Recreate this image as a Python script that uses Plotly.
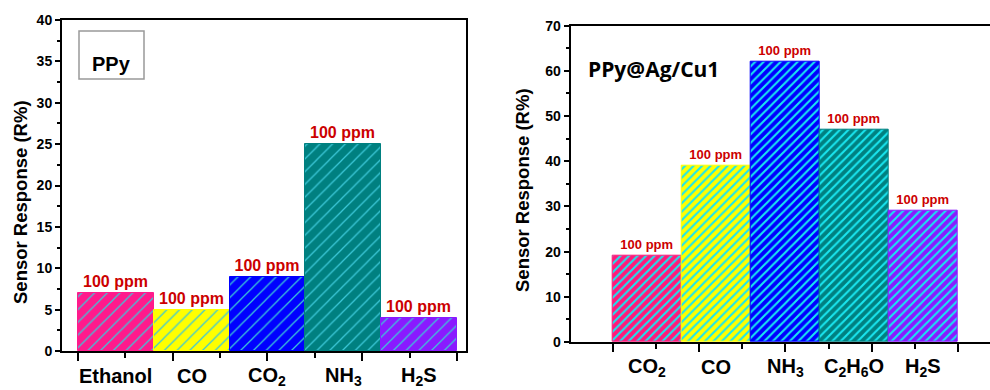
import plotly.graph_objects as go

# ---------------- data ----------------
ppy_gases = ["Ethanol", "CO", "CO<sub>2</sub>", "NH<sub>3</sub>", "H<sub>2</sub>S"]
ppy_values = [7, 5, 9, 25, 4]
ppy_colors = ["#ff1a8c", "#ffff00", "#0000ff", "#008080", "#8a1aff"]

agcu_gases = ["CO<sub>2</sub>", "CO", "NH<sub>3</sub>", "C<sub>2</sub>H<sub>6</sub>O", "H<sub>2</sub>S"]
agcu_values = [19, 39, 62, 47, 29]
agcu_colors = ["#ff1a7a", "#ffff00", "#0000ff", "#008080", "#8a1aff"]

conc_labels = ["100 ppm", "100 ppm", "100 ppm", "100 ppm", "100 ppm"]

ppy_yticks = [0, 5, 10, 15, 20, 25, 30, 35, 40]
agcu_yticks = [0, 10, 20, 30, 40, 50, 60, 70]

y_title = "Sensor Response (R%)"
FONT = "Liberation Sans, Arial, sans-serif"

W, H = 990, 390

# x tick marks: bar span divided into 8 intervals (major / minor alternate)
span = [-0.5 + k * 5 / 8 for k in range(9)]
major = span[0::2]
minor = span[1::2]

fig = go.Figure()

# one trace per bar so that each hatch keeps its own colours
for i, (v, c, t) in enumerate(zip(ppy_values, ppy_colors, conc_labels)):
    fig.add_trace(go.Bar(
        x=[i], y=[v], width=1, xaxis="x", yaxis="y",
        marker=dict(color=c, line=dict(color=c, width=1),
                    pattern=dict(shape="/", fillmode="replace", fgcolor="#3cc8d8",
                                 bgcolor=c, fgopacity=1, size=9, solidity=0.14)),
        text=[t], textposition="outside", constraintext="none", cliponaxis=False,
        outsidetextfont=dict(color="#cc0000", size=16, family=FONT, weight="bold"),
        showlegend=False,
    ))

for i, (v, c, t) in enumerate(zip(agcu_values, agcu_colors, conc_labels)):
    fig.add_trace(go.Bar(
        x=[i], y=[v], width=1, xaxis="x2", yaxis="y2",
        marker=dict(color=c, line=dict(color=c, width=1),
                    pattern=dict(shape="/", fillmode="replace", fgcolor="#19e6f0",
                                 bgcolor=c, fgopacity=1, size=6, solidity=0.35)),
        text=[t], textposition="outside", constraintext="none", cliponaxis=False,
        outsidetextfont=dict(color="#cc0000", size=13, family=FONT, weight="bold"),
        showlegend=False,
    ))

axis_common = dict(showline=True, linecolor="black", linewidth=2, showgrid=False,
                   zeroline=False, ticks="outside", tickcolor="black", automargin=False)

tickfont = dict(family=FONT, size=14, color="black", weight="bold")

fig.update_layout(
    width=W, height=H, autosize=False,
    margin=dict(l=0, r=0, t=0, b=0, pad=0, autoexpand=False),
    paper_bgcolor="white", plot_bgcolor="white",
    barmode="overlay", bargap=0,
    font=dict(family=FONT, color="black"),
    xaxis=dict(domain=[62 / W, 466 / W], range=[-0.711, 4.619], anchor="y",
               tickmode="array", tickvals=major, ticklen=8, tickwidth=1.5,
               showticklabels=False, mirror=True,
               minor=dict(tickmode="array", tickvals=minor, ticks="outside",
                          ticklen=5, tickwidth=1.5, tickcolor="black"),
               **axis_common),
    yaxis=dict(domain=[1 - 351 / H, 1 - 20 / H], range=[0, 40], anchor="x",
               tickmode="array", tickvals=ppy_yticks, ticklen=5, tickwidth=1.5,
               tickfont=tickfont, mirror=True,
               minor=dict(dtick=2.5, ticks="outside", ticklen=3, tickwidth=1.5,
                          tickcolor="black"),
               **axis_common),
    xaxis2=dict(domain=[570.7 / W, 1.0], range=[-1.113, 4.964], anchor="y2",
                tickmode="array", tickvals=major, ticklen=8, tickwidth=1.5,
                showticklabels=False, mirror=True,
                minor=dict(tickmode="array", tickvals=minor, ticks="outside",
                           ticklen=5, tickwidth=1.5, tickcolor="black"),
                **axis_common),
    yaxis2=dict(domain=[1 - 342 / H, 1 - 25.7 / H], range=[0, 70], anchor="x2",
                tickmode="array", tickvals=agcu_yticks, ticklen=5, tickwidth=1.5,
                tickfont=tickfont, mirror=False,
                minor=dict(dtick=5, ticks="outside", ticklen=3, tickwidth=1.5,
                           tickcolor="black"),
                **axis_common),
)

annotations = []
# category labels
for i, g in enumerate(ppy_gases):
    annotations.append(dict(x=i, y=0, xref="x", yref="y", text=g, showarrow=False,
                            yanchor="middle", yshift=-25,
                            font=dict(family=FONT, size=20, color="black", weight="bold")))
for i, g in enumerate(agcu_gases):
    annotations.append(dict(x=i, y=0, xref="x2", yref="y2", text=g, showarrow=False,
                            yanchor="middle", yshift=-25,
                            font=dict(family=FONT, size=20, color="black", weight="bold")))
# y-axis titles
annotations.append(dict(x=20 / W, y=1 - 202 / H, xref="paper", yref="paper", text=y_title,
                        textangle=-90, showarrow=False, xanchor="center", yanchor="middle",
                        font=dict(family=FONT, size=18.5, color="black", weight="bold")))
annotations.append(dict(x=522 / W, y=1 - 190 / H, xref="paper", yref="paper", text=y_title,
                        textangle=-90, showarrow=False, xanchor="center", yanchor="middle",
                        font=dict(family=FONT, size=18.5, color="black", weight="bold")))
# panel labels
annotations.append(dict(x=111.5 / W, y=1 - 64 / H, xref="paper", yref="paper", text="PPy",
                        showarrow=False, xanchor="center", yanchor="middle",
                        font=dict(family=FONT, size=20, color="black", weight="bold")))
annotations.append(dict(x=586 / W, y=1 - 69 / H, xref="paper", yref="paper", text="PPy@Ag/Cu1",
                        showarrow=False, xanchor="left", yanchor="middle",
                        font=dict(family="Open Sans, sans-serif", size=21, color="black",
                                  weight="bold")))
fig.update_layout(annotations=annotations)

fig.add_shape(type="rect", xref="paper", yref="paper",
              x0=79 / W, x1=144 / W, y0=1 - 79 / H, y1=1 - 31 / H,
              line=dict(color="#999999", width=1.5), fillcolor="rgba(0,0,0,0)")

fig.write_html("out.html")
